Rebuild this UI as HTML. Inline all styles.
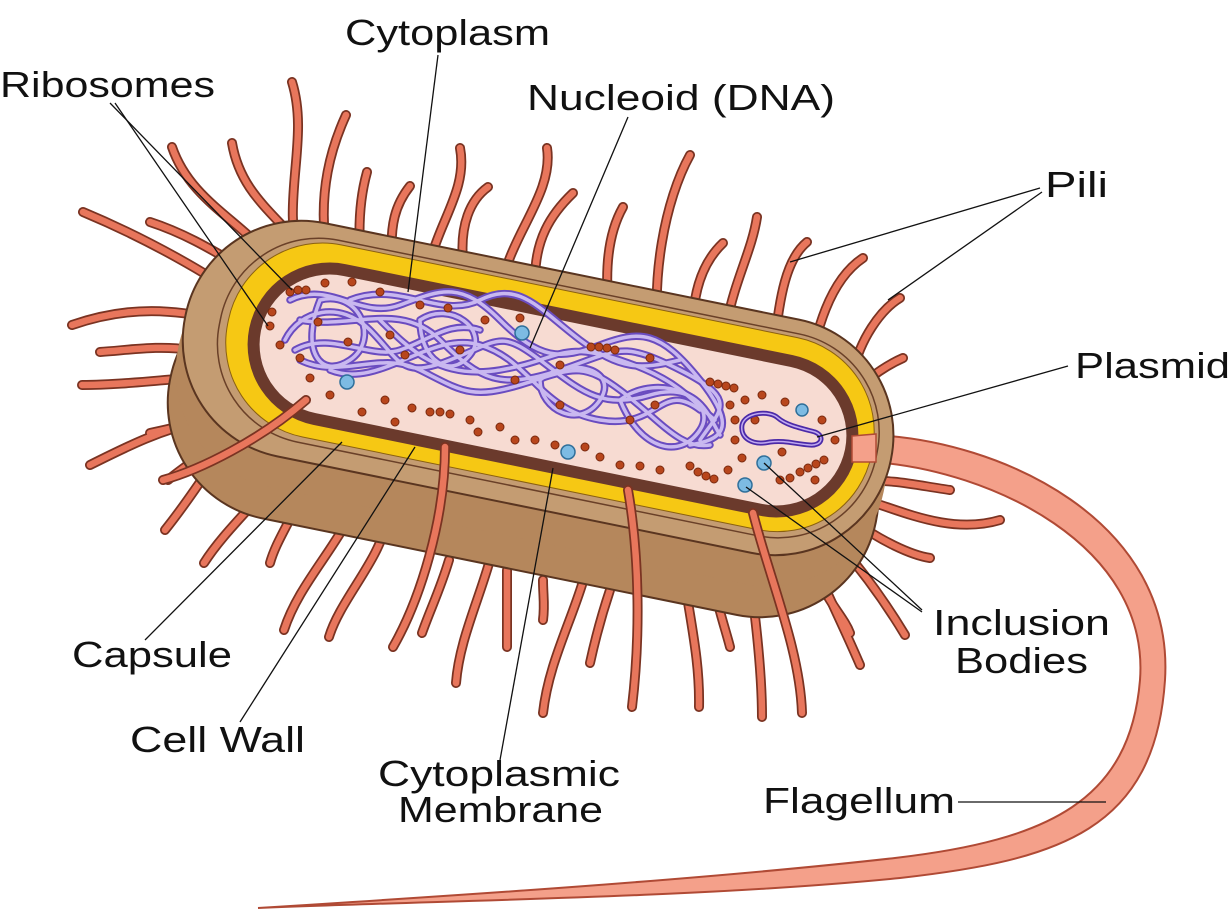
<!DOCTYPE html>
<html><head><meta charset="utf-8"><style>
html,body{margin:0;padding:0;background:#fff;width:1232px;height:915px;overflow:hidden}
svg{display:block}
text{font-family:"Liberation Sans",Arial,sans-serif;font-size:36px;fill:#111}
</style></head><body>
<svg width="1232" height="915" viewBox="0 0 1232 915" xmlns="http://www.w3.org/2000/svg">
<defs>
<g id="backhairs" fill="none" stroke-linecap="round">
<path d="M240,322 C200,318 150,298 72,325"/>
<path d="M245,300 C210,275 150,240 83,212"/>
<path d="M255,275 C220,255 190,235 150,222"/>
<path d="M270,258 C240,220 190,200 172,147"/>
<path d="M300,245 C270,210 240,190 232,143"/>
<path d="M300,265 C280,200 310,140 292,82"/>
<path d="M325,240 C320,190 330,150 346,115"/>
<path d="M360,250 C358,215 362,190 367,172"/>
<path d="M392,258 C390,225 395,205 410,186"/>
<path d="M428,300 C420,240 470,200 460,148"/>
<path d="M463,260 C460,225 470,200 488,187"/>
<path d="M503,303 C495,250 555,200 547,148"/>
<path d="M535,280 C535,240 550,215 573,193"/>
<path d="M608,300 C605,260 610,230 623,207"/>
<path d="M660,345 C650,280 665,200 690,155"/>
<path d="M693,318 C695,285 705,260 723,243"/>
<path d="M727,322 C735,280 752,250 757,217"/>
<path d="M775,338 C780,300 785,260 807,242"/>
<path d="M807,385 C815,330 830,280 863,258"/>
<path d="M853,372 C860,340 880,310 900,298"/>
<path d="M840,405 C860,385 880,368 903,358"/>
<path d="M860,437 C870,425 880,418 887,413"/>
<path d="M860,482 C890,478 920,486 950,490"/>
<path d="M865,500 C900,510 950,535 1000,520"/>
<path d="M855,522 C880,540 910,555 930,558"/>
<path d="M840,545 C870,580 890,610 905,635"/>
<path d="M815,565 C830,600 845,630 860,665"/>
<path d="M824,590 C835,610 845,620 850,633"/>
<path d="M753,600 C758,640 762,680 762,717"/>
<path d="M717,600 C722,620 727,635 730,647"/>
<path d="M683,570 C690,620 700,660 699,707"/>
<path d="M610,590 C600,620 595,640 590,663"/>
<path d="M592,540 C585,600 550,650 543,713"/>
<path d="M543,580 C543,595 545,605 543,620"/>
<path d="M507,570 C507,600 507,625 507,647"/>
<path d="M498,523 C490,580 460,630 456,683"/>
<path d="M449,560 C440,590 430,610 422,633"/>
<path d="M387,520 C380,560 340,600 329,637"/>
<path d="M358,495 C345,540 300,580 284,630"/>
<path d="M297,505 C285,530 275,545 270,563"/>
<path d="M284,467 C260,500 225,530 204,563"/>
<path d="M208,450 C195,460 180,470 168,480"/>
<path d="M235,413 C205,420 175,428 150,433"/>
<path d="M190,350 C160,345 130,350 100,352"/>
<path d="M190,378 C160,380 120,385 82,385"/>
<path d="M205,420 C160,430 130,445 90,465"/>
<path d="M225,445 C205,475 185,505 165,530"/>
</g>
<g id="fronthairs" fill="none" stroke-linecap="round">
<path d="M306,400 C260,440 200,470 163,480"/>
<path d="M445,447 C445,520 420,600 393,647"/>
<path d="M628,490 C640,560 640,640 632,707"/>
<path d="M753,513 C770,580 800,650 802,713"/>
</g>
<g id="dna" fill="none" stroke-linecap="round" stroke-linejoin="round">
<path d="M290,300 C330,280 360,320 400,305 S460,280 500,320 S560,360 600,345 S660,330 700,380 S720,440 690,445"/>
<path d="M285,340 C300,310 340,300 370,330 S400,380 450,360 S500,330 540,360 S600,410 650,395 S710,420 720,435"/>
<path d="M300,360 C340,380 380,350 420,370 S470,400 520,385 S580,360 620,390 S680,450 710,445"/>
<path d="M320,300 C360,290 380,340 350,360 S300,350 320,300"/>
<path d="M420,320 C450,300 490,330 470,355 S420,360 420,320"/>
<path d="M540,380 C570,355 620,370 600,400 S540,410 540,380"/>
<path d="M620,400 C660,370 720,400 700,430 S640,450 620,400"/>
<path d="M300,320 C350,330 400,300 440,340 S500,390 560,370 S620,340 680,370 S720,410 700,440"/>
<path d="M330,370 C380,390 430,330 480,345 S540,410 600,420 S660,380 700,410"/>
<path d="M350,300 C400,280 440,320 480,300 S540,310 580,340 S640,370 680,360"/>
<path d="M380,320 C410,350 440,380 500,370 S560,340 620,360 S690,400 715,420"/>
<path d="M295,350 C330,330 370,360 400,350 S450,320 480,330"/>
</g>
</defs>

<use href="#backhairs" stroke="#7a3322" stroke-width="10"/>
<use href="#backhairs" stroke="#e8765c" stroke-width="6.5"/>

<path d="M873,435 C1000,440 1175,520 1165,680 C1155,830 1060,860 900,878 C700,898 450,900 258,908 C450,896 700,880 895,858 C1050,840 1130,800 1140,680 C1150,545 990,470 873,462 Z" fill="#f4a08a" stroke="#b04a35" stroke-width="2"/>

<!-- body side -->
<g transform="translate(538 452) rotate(11.5)">
<rect x="-375" y="-118" width="720" height="238" rx="118" fill="#b5875c" stroke="#5a3520" stroke-width="2"/>
</g>
<g transform="translate(546 421) rotate(11.5)">
<rect x="-375" y="-118" width="720" height="238" rx="118" fill="#b5875c"/>
</g>
<!-- top face -->
<g transform="translate(553 390) rotate(11.5)">
<rect x="-375" y="-118" width="720" height="238" rx="118" fill="#c49c72" stroke="#5a3520" stroke-width="2"/>
<rect x="-340" y="-104" width="670" height="206" rx="100" fill="none" stroke="#6a4028" stroke-width="1.5"/>
<rect x="-332" y="-100" width="657" height="196" rx="96" fill="#f6c814" stroke="#8a6010" stroke-width="1"/>
<rect x="-310" y="-82" width="620" height="164" rx="82" fill="#6b3a2c"/>
<rect x="-298" y="-70" width="596" height="140" rx="70" fill="#f7dbd2"/>
</g>

<path d="M852,436 L876,434 L876,462 L852,462 Z" fill="#f4a08a" stroke="#b04a35" stroke-width="1.5"/>

<use href="#dna" stroke="#6a4cc0" stroke-width="7.5"/>
<use href="#dna" stroke="#c9b8f0" stroke-width="3.5"/>

<g fill="#b8461c" stroke="#7a2a10" stroke-width="1">
<circle cx="290" cy="292" r="4"/><circle cx="298" cy="290" r="4"/><circle cx="306" cy="290" r="4"/><circle cx="325" cy="283" r="4"/><circle cx="352" cy="282" r="4"/>
<circle cx="380" cy="292" r="4"/><circle cx="420" cy="305" r="4"/><circle cx="448" cy="308" r="4"/><circle cx="485" cy="320" r="4"/><circle cx="520" cy="318" r="4"/>
<circle cx="591" cy="347" r="4"/><circle cx="599" cy="347" r="4"/><circle cx="607" cy="348" r="4"/><circle cx="615" cy="350" r="4"/><circle cx="650" cy="358" r="4"/>
<circle cx="710" cy="382" r="4"/><circle cx="718" cy="384" r="4"/><circle cx="726" cy="386" r="4"/><circle cx="734" cy="388" r="4"/><circle cx="762" cy="395" r="4"/><circle cx="785" cy="402" r="4"/>
<circle cx="272" cy="312" r="4"/><circle cx="270" cy="326" r="4"/><circle cx="280" cy="345" r="4"/><circle cx="300" cy="358" r="4"/><circle cx="318" cy="322" r="4"/>
<circle cx="348" cy="342" r="4"/><circle cx="330" cy="395" r="4"/><circle cx="310" cy="378" r="4"/><circle cx="362" cy="412" r="4"/><circle cx="385" cy="400" r="4"/>
<circle cx="395" cy="422" r="4"/><circle cx="412" cy="408" r="4"/><circle cx="430" cy="412" r="4"/><circle cx="440" cy="412" r="4"/><circle cx="450" cy="414" r="4"/>
<circle cx="470" cy="420" r="4"/><circle cx="478" cy="432" r="4"/><circle cx="500" cy="427" r="4"/><circle cx="515" cy="440" r="4"/><circle cx="535" cy="440" r="4"/>
<circle cx="555" cy="445" r="4"/><circle cx="585" cy="447" r="4"/><circle cx="600" cy="457" r="4"/><circle cx="620" cy="465" r="4"/><circle cx="640" cy="466" r="4"/>
<circle cx="660" cy="470" r="4"/><circle cx="690" cy="466" r="4"/><circle cx="698" cy="472" r="4"/><circle cx="706" cy="476" r="4"/><circle cx="714" cy="479" r="4"/>
<circle cx="728" cy="470" r="4"/><circle cx="742" cy="458" r="4"/><circle cx="790" cy="478" r="4"/><circle cx="800" cy="472" r="4"/><circle cx="808" cy="468" r="4"/>
<circle cx="816" cy="464" r="4"/><circle cx="824" cy="460" r="4"/><circle cx="782" cy="452" r="4"/><circle cx="735" cy="440" r="4"/><circle cx="735" cy="420" r="4"/>
<circle cx="745" cy="400" r="4"/><circle cx="730" cy="405" r="4"/><circle cx="655" cy="405" r="4"/><circle cx="560" cy="405" r="4"/><circle cx="515" cy="380" r="4"/>
<circle cx="460" cy="350" r="4"/><circle cx="405" cy="355" r="4"/><circle cx="390" cy="335" r="4"/><circle cx="630" cy="420" r="4"/><circle cx="835" cy="440" r="4"/>
<circle cx="822" cy="420" r="4"/><circle cx="815" cy="480" r="4"/><circle cx="755" cy="420" r="4"/><circle cx="780" cy="480" r="4"/><circle cx="560" cy="365" r="4"/>
</g>

<g fill="#7dbbe3" stroke="#2f6f9a" stroke-width="1.5">
<circle cx="522" cy="333" r="7"/><circle cx="347" cy="382" r="7"/><circle cx="568" cy="452" r="7"/>
<circle cx="802" cy="410" r="6"/><circle cx="764" cy="463" r="7"/><circle cx="745" cy="485" r="7"/>
</g>

<path d="M742,425 C745,412 770,410 778,418 C786,425 800,428 815,432 C825,436 822,446 810,445 C795,444 785,440 770,442 C752,446 740,438 742,425 Z" fill="none" stroke="#4b2aa8" stroke-width="5"/>
<path d="M742,425 C745,412 770,410 778,418 C786,425 800,428 815,432 C825,436 822,446 810,445 C795,444 785,440 770,442 C752,446 740,438 742,425 Z" fill="none" stroke="#c0aaf2" stroke-width="1.5"/>

<use href="#fronthairs" stroke="#7a3322" stroke-width="10"/>
<use href="#fronthairs" stroke="#e8765c" stroke-width="6.5"/>

<g stroke="#111" stroke-width="1.3" fill="none">
<line x1="438" y1="55" x2="408" y2="292"/>
<line x1="110" y1="103" x2="292" y2="290"/>
<line x1="115" y1="103" x2="268" y2="326"/>
<line x1="628" y1="117" x2="530" y2="348"/>
<line x1="1040" y1="188" x2="790" y2="262"/>
<line x1="1042" y1="192" x2="888" y2="300"/>
<line x1="1068" y1="366" x2="817" y2="437"/>
<line x1="922" y1="610" x2="764" y2="463"/>
<line x1="922" y1="612" x2="746" y2="487"/>
<line x1="145" y1="640" x2="342" y2="442"/>
<line x1="240" y1="722" x2="415" y2="447"/>
<line x1="500" y1="760" x2="553" y2="468"/>
<line x1="958" y1="802" x2="1106" y2="802"/>
</g>

<text x="345" y="45" textLength="205" lengthAdjust="spacingAndGlyphs">Cytoplasm</text>
<text x="0" y="97" textLength="215" lengthAdjust="spacingAndGlyphs">Ribosomes</text>
<text x="527" y="110" textLength="308" lengthAdjust="spacingAndGlyphs">Nucleoid (DNA)</text>
<text x="1045" y="197" textLength="63" lengthAdjust="spacingAndGlyphs">Pili</text>
<text x="1075" y="378" textLength="155" lengthAdjust="spacingAndGlyphs">Plasmid</text>
<text x="933" y="635" textLength="177" lengthAdjust="spacingAndGlyphs">Inclusion</text>
<text x="955" y="673" textLength="133" lengthAdjust="spacingAndGlyphs">Bodies</text>
<text x="72" y="667" textLength="160" lengthAdjust="spacingAndGlyphs">Capsule</text>
<text x="130" y="752" textLength="175" lengthAdjust="spacingAndGlyphs">Cell Wall</text>
<text x="378" y="786" textLength="242" lengthAdjust="spacingAndGlyphs">Cytoplasmic</text>
<text x="398" y="822" textLength="205" lengthAdjust="spacingAndGlyphs">Membrane</text>
<text x="763" y="813" textLength="192" lengthAdjust="spacingAndGlyphs">Flagellum</text>
</svg>
</body></html>
